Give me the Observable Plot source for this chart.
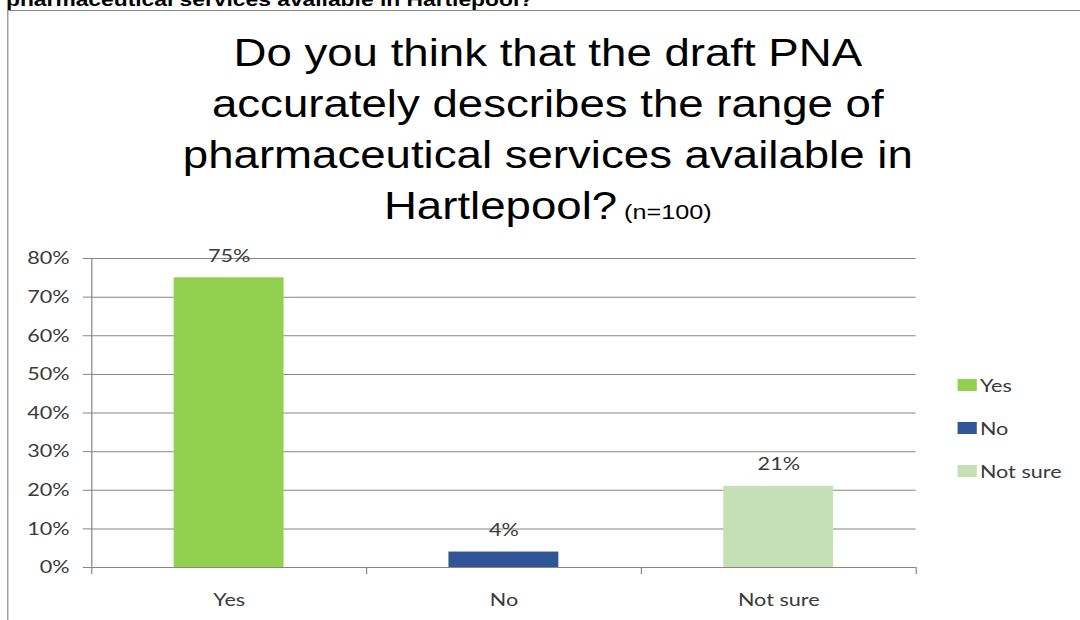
<!DOCTYPE html>
<html>
<head>
<meta charset="utf-8">
<script src="https://cdn.jsdelivr.net/npm/d3@7"></script>
<script src="https://cdn.jsdelivr.net/npm/@observablehq/plot@0.6"></script>
<style>
  html, body { margin: 0; padding: 0; background: #fff; overflow: hidden; }
  /* the slide is laid out at 900px and stretched to the 1080px window */
  #page { position: relative; width: 900px; height: 620px; transform: scaleX(1.2); transform-origin: 0 0; overflow: hidden; }
  #heading { position: absolute; left: 5px; top: -10px; font: bold 19px/19px "Liberation Sans", Arial, sans-serif; color: #000; white-space: nowrap; }
  #frame { position: absolute; left: 6px; top: 10px; width: 2000px; height: 2000px; border-left: 1px solid #8a8a8a; border-top: 1px solid #8a8a8a; }
  #title { position: absolute; left: 0; top: 28px; width: 913px; text-align: center; font: 38px/51px "Liberation Sans", Arial, sans-serif; color: #000; }
  #title .note { font-size: 21px; }
  #chart { position: absolute; left: 0; top: 230px; }
  #legend { position: absolute; left: 798px; top: 379px; font: 18px "Lato", sans-serif; color: #3a3a3a; }
  #legend .item { display: flex; align-items: center; height: 12px; margin-bottom: 31px; }
  #legend .key { width: 15.6px; height: 12px; margin-right: 3px; }
</style>
</head>
<body>
<div id="page">
  <div id="heading"></div>
  <div id="frame"></div>
  <div id="title"></div>
  <div id="chart"></div>
  <div id="legend"></div>
</div>
<script>
// Survey answers and their shares of respondents
const categories = ["Yes", "No", "Not sure"];
const shares = [0.75, 0.04, 0.21];
const colors = ["#92D050", "#2F5597", "#C5E0B4"];
const yTicks = [0, 0.1, 0.2, 0.3, 0.4, 0.5, 0.6, 0.7, 0.8];

const headingText = "pharmaceutical services available in Hartlepool?";
const titleLines = [
  "Do you think that the draft PNA",
  "accurately describes the range of",
  "pharmaceutical services available in",
  "Hartlepool?"
];
const titleNote = "(n=100)";

const pct = d3.format(".0%");
const data = categories.map((c, i) => ({category: c, index: i, share: shares[i]}));

// heading and title
document.getElementById("heading").textContent = headingText;
const title = document.getElementById("title");
titleLines.forEach((line, i) => {
  title.appendChild(document.createTextNode(line));
  if (i < titleLines.length - 1) title.appendChild(document.createElement("br"));
});
const note = document.createElement("span");
note.className = "note";
note.textContent = " " + titleNote;
title.appendChild(note);

// column chart
const grey = "#868686";
const ink = "#3a3a3a";
const plot = Plot.plot({
  width: 900,
  height: 390,
  marginTop: 28,
  marginBottom: 53,
  marginLeft: 76,
  marginRight: 137,
  style: {fontFamily: "Lato, sans-serif", fontSize: "18px", color: ink, background: "transparent", overflow: "visible"},
  x: {domain: [-0.5, categories.length - 0.5], axis: null},
  y: {domain: [0, 0.8], axis: null},
  color: {domain: categories, range: colors},
  marks: [
    Plot.gridY(yTicks, {stroke: grey, strokeOpacity: 1}),
    Plot.ruleX([-0.5], {y1: 0, y2: 0.8, stroke: grey}),
    Plot.axisY({ticks: yTicks, tickFormat: pct, tickSize: 7, tickPadding: 11.5, stroke: grey, fill: ink, label: null}),
    Plot.axisX({ticks: d3.range(categories.length + 1).map(i => i - 0.5), tickSize: 7, tickFormat: () => "", stroke: grey, label: null}),
    Plot.axisX({ticks: d3.range(categories.length), tickSize: 0, tickPadding: 26, tickFormat: i => categories[i], fill: ink, label: null}),
    Plot.rectY(data, {x1: d => d.index - 0.2, x2: d => d.index + 0.2, y1: 0, y2: "share", fill: "category"}),
    Plot.text(data, {x: "index", y: "share", text: d => pct(d.share), lineAnchor: "bottom", dy: -16, fill: ink, fontSize: 18})
  ]
});
document.getElementById("chart").appendChild(plot);

// legend
const color = plot.scale("color");
const legend = document.getElementById("legend");
color.domain.forEach((c, i) => {
  const item = document.createElement("div");
  item.className = "item";
  const key = document.createElement("span");
  key.className = "key";
  key.style.background = color.range[i];
  const label = document.createElement("span");
  label.textContent = c;
  item.appendChild(key);
  item.appendChild(label);
  legend.appendChild(item);
});
</script>
</body>
</html>
